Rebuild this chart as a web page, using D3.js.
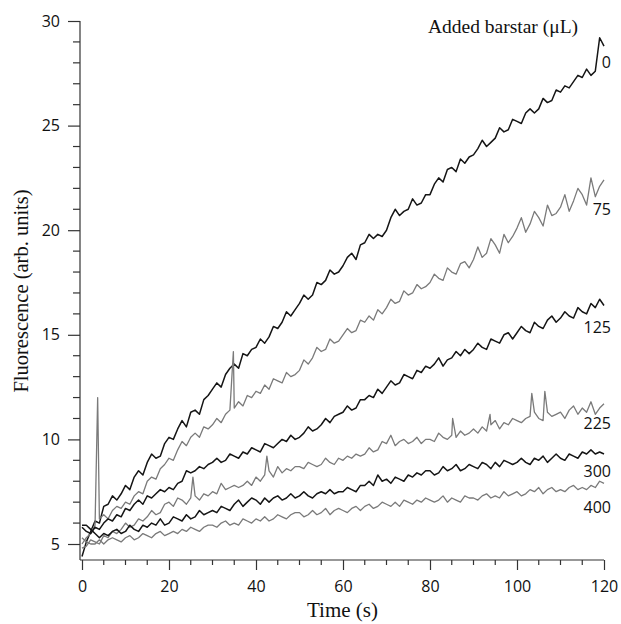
<!DOCTYPE html>
<html>
<head>
<meta charset="utf-8">
<script src="https://cdn.jsdelivr.net/npm/d3@7"></script>
<style>
  body { margin: 0; background: #fff; }
  svg { display: block; }
  .tick-label { font-family: "Open Sans", sans-serif; font-size: 16px; fill: #111; }
  .title { font-family: "Liberation Serif", "Times New Roman", serif; fill: #111; }
</style>
</head>
<body>
<div id="chart"></div>
<script>
// Time base: one reading per second, 0..120 s
const times = d3.range(0, 121);

// Fluorescence readings (arb. units) for each amount of added barstar
const s0 = [
  4.4, 5.1, 5.6, 6.1, 6.0, 6.8, 6.9, 7.3, 7.1, 7.4,
  7.8, 7.6, 8.2, 8.5, 8.3, 8.9, 9.3, 9.1, 9.2, 9.8,
  10.1, 10.0, 10.5, 10.9, 10.6, 11.3, 11.4, 11.2, 11.9, 12.1,
  12.4, 12.7, 12.5, 13.1, 13.4, 13.6, 13.4, 14.1, 14.0, 14.3,
  14.4, 14.8, 14.6, 14.9, 15.4, 15.3, 15.6, 16.1, 15.9, 16.2,
  16.5, 16.9, 16.7, 16.9, 17.5, 17.4, 17.6, 18.1, 17.9, 18.0,
  18.3, 18.7, 18.9, 18.6, 19.3, 19.4, 19.8, 19.6, 19.8, 19.7,
  20.0, 20.6, 21.0, 20.7, 20.9, 21.0, 21.5, 21.2, 21.3, 21.7,
  21.7, 22.2, 22.5, 22.3, 22.9, 23.0, 22.8, 23.4, 23.2, 23.5,
  23.6, 23.9, 24.3, 24.0, 24.2, 24.4, 24.9, 24.7, 24.8, 25.3,
  25.2, 25.1, 25.6, 25.8, 25.6, 25.8, 26.3, 26.1, 26.2, 26.7,
  26.6, 26.9, 26.8, 27.1, 27.4, 27.3, 27.7, 27.4, 27.6, 29.2,
  28.8
];
const s75 = [
  5.0, 5.3, 5.5, 5.9, 6.2, 6.4, 6.2, 6.6, 6.8, 6.7,
  7.0, 6.9, 7.3, 7.5, 7.4, 8.0, 8.2, 8.1, 8.6, 8.8,
  9.1, 9.0, 9.5, 9.9, 9.7, 10.1, 10.3, 10.1, 10.6, 10.5,
  10.7, 11.0, 10.8, 11.2, 11.4, 11.5, 11.8, 11.6, 12.1, 12.0,
  12.3, 12.2, 12.6, 12.4, 12.9, 12.8, 12.7, 13.2, 13.0, 13.1,
  13.3, 13.8, 13.6, 13.9, 14.4, 14.2, 14.3, 14.8, 14.6, 14.7,
  15.0, 15.3, 15.1, 15.2, 15.7, 15.6, 15.9, 15.7, 16.2, 16.0,
  16.3, 16.7, 16.5, 16.6, 17.1, 16.9, 17.0, 17.4, 17.2, 17.3,
  17.5, 17.9, 17.7, 17.6, 18.2, 18.0, 17.9, 18.4, 18.5, 18.2,
  18.6, 19.2, 18.7, 18.9, 19.6, 19.3, 18.9, 19.8, 19.4, 19.7,
  20.1, 20.6, 19.9, 20.3, 20.9, 20.6, 20.2, 21.2, 20.7, 20.8,
  21.1, 21.7, 20.9, 21.4, 22.0, 21.7, 21.2, 22.5, 21.6, 22.1,
  22.4
];
const s125 = [
  5.8, 5.6, 5.5, 5.8, 5.7, 6.0, 6.2, 6.1, 6.4, 6.3,
  6.7, 6.6, 6.9, 7.1, 6.9, 7.3, 7.2, 7.4, 7.6, 7.5,
  7.7, 7.6, 7.9, 8.0, 8.5, 8.4, 8.5, 8.7, 8.6, 8.8,
  8.9, 9.1, 8.9, 9.0, 9.3, 9.2, 9.1, 9.4, 9.3, 9.6,
  9.5, 9.4, 9.8, 9.7, 9.6, 9.8, 10.0, 9.9, 10.2, 10.0,
  10.1, 10.3, 10.6, 10.4, 10.5, 10.7, 11.0, 10.8, 11.1, 11.2,
  11.3, 11.6, 11.4, 11.5, 11.9, 11.9, 12.1, 12.0, 12.4, 12.2,
  12.5, 12.8, 12.6, 12.7, 13.1, 13.0, 12.9, 13.3, 13.2, 13.5,
  13.4, 13.6, 13.9, 13.5, 13.8, 13.9, 14.2, 14.0, 14.3, 14.1,
  14.3, 14.6, 14.4, 14.3, 14.8, 14.7, 14.6, 15.0, 15.1, 14.8,
  15.1, 15.4, 15.2, 15.1, 15.6, 15.4, 15.3, 15.7, 15.9, 15.6,
  15.8, 16.1, 15.9, 15.8, 16.3, 16.1, 16.0, 16.5, 16.3, 16.7,
  16.4
];
const s225 = [
  4.8, 4.9, 5.2, 5.1, 5.0, 5.4, 5.3, 5.6, 5.5, 5.7,
  6.0, 5.8, 5.9, 6.2, 6.1, 6.3, 6.6, 6.4, 6.5, 6.9,
  7.0, 6.8, 7.2, 7.1, 6.9, 7.2, 7.3, 7.1, 7.4, 7.3,
  7.5, 7.4, 7.9, 7.6, 7.7, 7.8, 7.7, 7.8, 8.0, 7.8,
  8.2, 8.0, 8.3, 8.5, 8.2, 8.7, 8.4, 8.6, 8.5, 8.7,
  8.7, 8.6, 8.9, 8.8, 8.7, 8.8, 9.1, 8.9, 8.8, 9.1,
  9.0, 9.2, 9.1, 9.3, 9.2, 9.3, 9.6, 9.4, 9.5, 9.9,
  9.8, 10.2, 9.7, 9.9, 10.0, 9.8, 9.9, 10.1, 9.8, 10.0,
  10.0, 9.9, 10.3, 10.1, 10.0, 10.2, 10.1, 10.4, 10.2, 10.3,
  10.5, 10.3, 10.6, 10.4, 10.7, 10.9, 10.5, 10.8, 10.7, 11.0,
  10.9, 10.8, 11.0, 11.1, 11.3, 11.0, 10.9, 11.3, 11.1, 11.2,
  11.3, 11.0, 11.4, 11.6, 11.2, 11.5, 11.3, 11.8, 11.2, 11.5,
  11.7
];
const s300 = [
  5.9, 5.9, 5.7, 5.5, 5.3, 5.5, 5.4, 5.6, 5.7, 5.5,
  5.6, 5.9, 5.7, 5.6, 5.9, 5.8, 6.0, 5.9, 6.2, 5.9,
  6.0, 6.3, 6.2, 6.1, 6.4, 6.2, 6.3, 6.6, 6.4, 6.5,
  6.6, 6.5, 6.8, 6.7, 6.6, 6.9, 7.1, 6.8, 7.0, 7.2,
  7.1, 6.9, 7.2, 7.0, 7.2, 7.3, 7.1, 7.2, 7.4, 7.2,
  7.3, 7.5, 7.3, 7.2, 7.4, 7.5, 7.4, 7.6, 7.4, 7.5,
  7.5, 7.7, 7.6, 7.5, 7.8, 7.8, 8.0, 7.8, 8.3, 8.0,
  8.1, 7.9, 8.2, 8.1, 8.0, 8.3, 8.2, 8.4, 8.3, 8.5,
  8.5, 8.3, 8.4, 8.7, 8.5, 8.6, 8.8, 8.5, 8.6, 8.8,
  8.7, 8.6, 8.9, 8.8, 8.6, 8.9, 8.7, 9.0, 8.9, 8.8,
  8.9, 9.1, 8.9, 8.8, 9.1, 9.0, 9.2, 8.9, 9.1, 9.3,
  9.1, 9.0, 9.3, 9.2, 9.1, 9.4, 9.3, 9.5, 9.3, 9.4,
  9.3
];
const s400 = [
  5.3, 5.1, 5.0, 5.0, 5.2, 5.0, 5.2, 5.3, 5.2, 5.1,
  5.3, 5.4, 5.2, 5.3, 5.5, 5.4, 5.3, 5.5, 5.6, 5.4,
  5.5, 5.6, 5.5, 5.7, 5.6, 5.8, 5.7, 5.6, 5.8, 5.9,
  5.9, 5.8, 6.0, 6.1, 5.9, 6.0, 5.9, 6.2, 6.1, 6.0,
  6.2, 6.1, 6.3, 6.1, 6.2, 6.4, 6.3, 6.2, 6.4, 6.5,
  6.5, 6.3, 6.4, 6.6, 6.4, 6.5, 6.7, 6.4, 6.6, 6.7,
  6.6, 6.5, 6.7, 6.8, 6.6, 6.8, 6.9, 6.7, 6.8, 7.0,
  6.9, 6.8, 7.0, 6.8, 7.1, 7.0, 6.9, 7.1, 7.0, 7.2,
  7.1, 7.0, 7.1, 7.3, 7.0, 7.2, 7.1, 7.0, 7.3, 7.2,
  7.2, 7.1, 7.3, 7.4, 7.2, 7.3, 7.2, 7.5, 7.3, 7.4,
  7.5, 7.3, 7.4, 7.6, 7.5, 7.7, 7.4, 7.6, 7.7, 7.5,
  7.6, 7.5, 7.7, 7.8, 7.6, 7.7, 7.6, 7.8, 7.7, 8.0,
  7.9
];

// Short spikes between regular readings: [time, value]
const spikes75 = [[3.6, 12.0], [34.8, 14.2]];
const spikes225 = [[25.5, 8.2], [42.5, 9.2], [85.2, 11.0], [93.8, 11.2], [103.4, 12.2], [106.4, 12.3]];

const seriesLabels = ["0", "75", "125", "225", "300", "400"];
const seriesValues = [s0, s75, s125, s225, s300, s400];
const seriesSpikes = [[], spikes75, [], spikes225, [], []];
const seriesColors = ["#151515", "#7a7a7a", "#151515", "#7a7a7a", "#151515", "#7a7a7a"];
const labelYs = [68, 215, 333, 429, 477, 513]; // baseline of end labels, px

const xTicks = [0, 20, 40, 60, 80, 100, 120];
const yTicks = [5, 10, 15, 20, 25, 30];

const width = 621, height = 624;

const svg = d3.select("#chart").append("svg")
  .attr("width", width)
  .attr("height", height);

const x = d3.scaleLinear().domain([0, 120]).range([82, 604]);
const y = d3.scaleLinear().domain([5, 30]).range([544, 21]);
const yMin = y.invert(560);

// Axes
const xAxis = d3.axisBottom(x)
  .tickValues(xTicks)
  .tickSize(10)
  .tickPadding(5);
const gx = svg.append("g")
  .attr("transform", `translate(0,560)`)
  .call(xAxis);
gx.select(".domain").attr("d", `M80,0H${x(120)}`);

gx.selectAll(".minor")
  .data(d3.range(5, 120, 5).filter(d => d % 20 !== 0))
  .join("line")
  .attr("class", "minor")
  .attr("x1", d => x(d)).attr("x2", d => x(d))
  .attr("y1", 0).attr("y2", 5);

const yAxis = d3.axisLeft(y)
  .tickValues(yTicks)
  .tickSize(12)
  .tickPadding(8);
const gy = svg.append("g")
  .attr("transform", `translate(80,0)`)
  .call(yAxis);
gy.select(".domain").attr("d", `M0,560V${y(30)}`);

gy.selectAll(".minor")
  .data(d3.range(5, 30).filter(d => d % 5 !== 0))
  .join("line")
  .attr("class", "minor")
  .attr("y1", d => y(d)).attr("y2", d => y(d))
  .attr("x1", 0).attr("x2", -7);

svg.selectAll(".domain, .tick line, .minor")
  .attr("stroke", "#333")
  .attr("stroke-width", 1.2);
svg.selectAll(".tick text")
  .attr("class", "tick-label")
  .attr("fill", "#111")
  .attr("font-size", null)
  .attr("font-family", null);
gx.selectAll(".tick text").attr("dy", "1.05em");

// Lines
const line = d3.line()
  .x(d => x(d[0]))
  .y(d => y(Math.max(d[1], yMin)));

seriesValues.forEach((vals, i) => {
  const pts = times.map((t, j) => [t, vals[j]])
    .concat(seriesSpikes[i])
    .sort((a, b) => a[0] - b[0]);
  svg.append("path")
    .datum(pts)
    .attr("fill", "none")
    .attr("stroke", seriesColors[i])
    .attr("stroke-width", i % 2 === 0 ? 1.5 : 1.3)
    .attr("stroke-linejoin", "round")
    .attr("d", line);
});

// End labels
svg.selectAll(".series-label")
  .data(seriesLabels)
  .join("text")
  .attr("class", "tick-label series-label")
  .attr("x", 611)
  .attr("y", (d, i) => labelYs[i])
  .attr("text-anchor", "end")
  .text(d => d);

// Titles
svg.append("text")
  .attr("class", "title")
  .attr("x", 503)
  .attr("y", 33)
  .attr("text-anchor", "middle")
  .attr("font-size", 19.5)
  .text("Added barstar (\u03bcL)");

svg.append("text")
  .attr("class", "title")
  .attr("x", 342.5)
  .attr("y", 617)
  .attr("text-anchor", "middle")
  .attr("font-size", 21)
  .text("Time (s)");

svg.append("text")
  .attr("class", "title")
  .attr("transform", "translate(28,291) rotate(-90)")
  .attr("text-anchor", "middle")
  .attr("font-size", 20.5)
  .text("Fluorescence (arb. units)");
</script>
</body>
</html>
